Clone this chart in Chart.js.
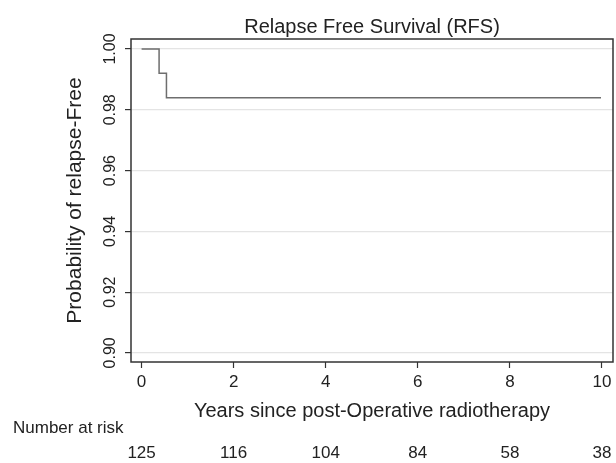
<!DOCTYPE html>
<html lang="en">
<head>
  <meta charset="UTF-8">
  <title>Relapse Free Survival (RFS)</title>
  <script src="https://cdn.jsdelivr.net/npm/chart.js"></script>
  <style>
    html, body { margin: 0; padding: 0; background: #fff; }
  </style>
</head>
<body>
  <canvas id="myChart" width="616" height="463"></canvas>

  <script>
    // Kaplan-Meier step curve (years, survival probability)
    const kmTimes = [0, 0.38, 0.38, 0.54, 0.54, 9.98];
    const kmSurv = [1.0, 1.0, 0.992, 0.992, 0.984, 0.984];

    const xTicks = [0, 2, 4, 6, 8, 10];
    const yTicks = [0.90, 0.92, 0.94, 0.96, 0.98, 1.00];

    // number at risk table
    const riskTimes = [0, 2, 4, 6, 8, 10];
    const riskCounts = [125, 116, 104, 84, 58, 38];

    const FONT = "'Liberation Sans', Arial, Helvetica, sans-serif";
    const INK = '#222';

    const points = kmTimes.map((t, i) => ({x: t, y: kmSurv[i]}));

    const frame = {
      id: 'frame',
      afterDatasetsDraw(chart) {
        const {ctx, chartArea: a} = chart;
        ctx.save();
        ctx.strokeStyle = '#333';
        ctx.lineWidth = 1.5;
        ctx.strokeRect(a.left, a.top, a.right - a.left, a.bottom - a.top);
        ctx.restore();
      }
    };

    const riskTable = {
      id: 'riskTable',
      afterDraw(chart) {
        const {ctx} = chart;
        const xs = chart.scales.x;
        ctx.save();
        ctx.fillStyle = INK;
        ctx.font = '17px ' + FONT;
        ctx.textBaseline = 'middle';
        ctx.textAlign = 'left';
        ctx.fillText('Number at risk', 13, 428);
        ctx.textAlign = 'center';
        riskTimes.forEach((t, i) => {
          ctx.fillText(String(riskCounts[i]), xs.getPixelForValue(t), 453);
        });
        ctx.restore();
      }
    };

    new Chart(document.getElementById('myChart'), {
      type: 'line',
      data: {
        datasets: [{
          data: points,
          borderColor: '#6e6e6e',
          borderWidth: 1.5,
          pointRadius: 0,
          tension: 0,
          fill: false
        }]
      },
      options: {
        responsive: false,
        animation: false,
        layout: {padding: {left: 0, right: 3, top: 15, bottom: 40}},
        plugins: {
          legend: {display: false},
          tooltip: {enabled: false},
          title: {
            display: true,
            fullSize: false,
            text: 'Relapse Free Survival (RFS)',
            color: INK,
            font: {family: FONT, size: 20, weight: 'normal'},
            padding: {top: 0, bottom: 0}
          }
        },
        scales: {
          x: {
            type: 'linear',
            min: -0.23,
            max: 10.24,
            afterBuildTicks: (s) => { s.ticks = xTicks.map(v => ({value: v})); },
            afterFit: (s) => { s.height = 61; },
            border: {display: false},
            grid: {drawOnChartArea: false, drawTicks: true, tickLength: 6, tickColor: '#333', tickWidth: 1.2},
            ticks: {color: INK, font: {family: FONT, size: 17}, padding: 4, maxRotation: 0},
            title: {
              display: true,
              text: 'Years since post-Operative radiotherapy',
              color: INK,
              font: {family: FONT, size: 20},
              padding: {top: 0, bottom: 0}
            }
          },
          y: {
            type: 'linear',
            min: 0.897,
            max: 1.0033,
            afterBuildTicks: (s) => { s.ticks = yTicks.map(v => ({value: v})); },
            afterFit: (s) => { s.width = 131; },
            border: {display: false},
            grid: {color: '#e4e4e4', lineWidth: 1.2, tickLength: 6, tickColor: '#333', tickWidth: 1.2},
            ticks: {
              color: INK,
              font: {family: FONT, size: 16},
              padding: -1,
              crossAlign: 'center',
              minRotation: 90,
              maxRotation: 90,
              callback: (v) => v.toFixed(2)
            },
            title: {
              display: true,
              text: 'Probability of relapse-Free',
              color: INK,
              font: {family: FONT, size: 21},
              padding: {top: 63, bottom: 0}
            }
          }
        }
      },
      plugins: [frame, riskTable]
    });
  </script>
</body>
</html>
